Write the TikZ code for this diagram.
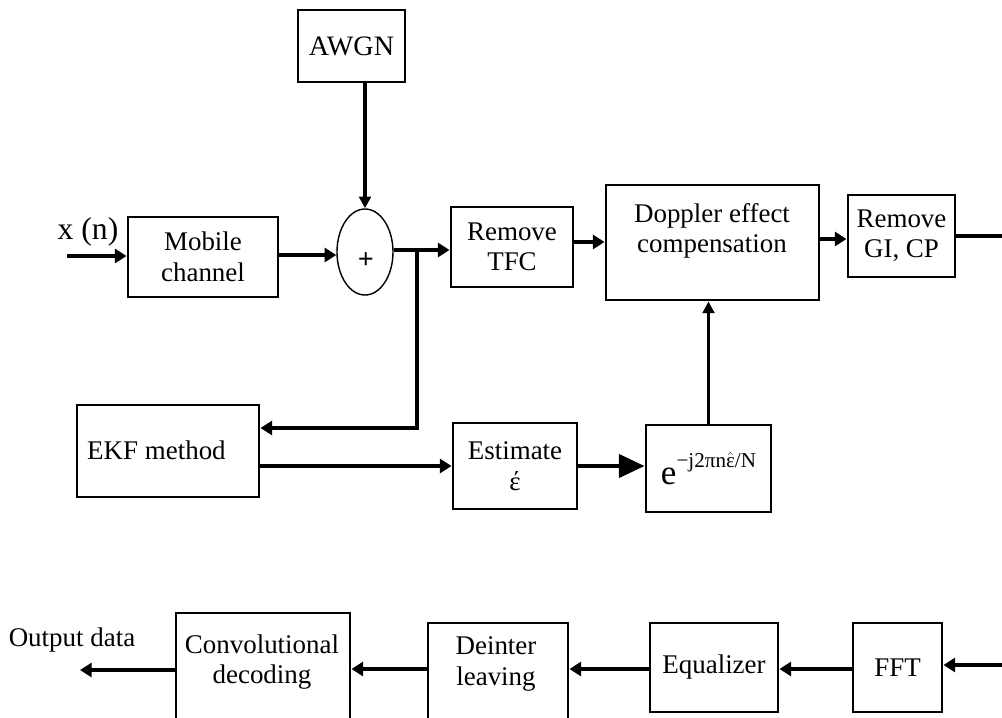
\documentclass[tikz,border=0pt]{standalone}
\usepackage{fontspec}
\setmainfont{Liberation Serif}
\usetikzlibrary{arrows.meta,shapes.geometric}
\tikzset{
  blk/.style={draw, line width=2.5pt, inner sep=0pt, align=center, font=\fontsize{23}{26}\selectfont},
  txt/.style={inner sep=0pt, align=center, font=\fontsize{23}{26}\selectfont},
  thickarr/.style={line width=4pt, -{Triangle[length=10pt,width=12pt]}},
  thinarr/.style={line width=2.6pt, -{Triangle[length=10pt,width=10pt]}},
  bigarr/.style={line width=2.8pt, -{Triangle[length=22pt,width=20pt]}},
  thickline/.style={line width=4pt},
}
\begin{document}
\begin{tikzpicture}[x=0.03cm,y=-0.03cm]
\useasboundingbox (0,0) rectangle (1002,717);
\clip (0,0) rectangle (1002,717);
\fill[white] (0,0) rectangle (1002,717);

% top row
\node[blk, minimum width=3.21cm, minimum height=2.16cm, font=\fontsize{24}{26}\selectfont] (awgn) at (351.5,46) {AWGN};
\node[blk, minimum width=4.5cm, minimum height=2.4cm] (mob) at (203,257) {Mobile\\channel};
\node[draw, ellipse, line width=1.2pt, minimum width=1.68cm, minimum height=2.58cm, inner sep=0pt] (add) at (365,252) {};
\node[txt, font=\fontsize{24}{26}\selectfont\bfseries] (plus) at (366,261) {+};
\node[blk, minimum width=3.66cm, minimum height=2.4cm] (tfc) at (512,247) {Remove\\TFC};
\node[blk, minimum width=6.39cm, minimum height=3.45cm] (dop) at (712.5,242.5) {};
\node[txt] (doptxt) at (712,231) {Doppler effect\\compensation};
\node[blk, minimum width=3.21cm, minimum height=2.46cm] (gi) at (901.5,236) {Remove\\GI, CP};

% middle row
\node[blk, minimum width=5.46cm, minimum height=2.76cm] (ekf) at (168,451) {};
\node[txt, anchor=west] (ekftxt) at (87,450) {EKF method};
\node[blk, minimum width=3.72cm, minimum height=2.58cm] (est) at (515,466) {Estimate\\έ};
\node[blk, minimum width=3.75cm, minimum height=2.61cm, font=\fontsize{30}{32}\selectfont] (ebox) at (708.5,468.5)
  {e\raisebox{1.0ex}{\fontsize{18}{18}\selectfont −j2πn$\hat{\hbox{ε}}$/N}};

% bottom row
\node[blk, minimum width=5.22cm, minimum height=3.51cm] (conv) at (263,671.5) {};
\node[txt] (convtxt) at (262,662) {Convolutional\\decoding};
\node[blk, minimum width=4.2cm, minimum height=3.21cm] (dein) at (498,676.5) {};
\node[txt] (deintxt) at (496,664) {Deinter\\leaving};
\node[blk, minimum width=3.84cm, minimum height=2.67cm] (eq) at (714,667.5) {Equalizer};
\node[blk, minimum width=2.67cm, minimum height=2.67cm] (fft) at (897.5,667.5) {FFT};

% labels
\node[txt, font=\fontsize{27}{29}\selectfont] (xn) at (88,232) {x (n)};
\node[txt] (outlbl) at (72,640) {Output data};

% coordinates
\coordinate (in) at (67,256);
\coordinate (j) at (417,250);
\coordinate (fb) at (417,428);
\coordinate (a1) at (0,242);
\coordinate (a2) at (0,239);
\coordinate (outR) at (1002,233);
\coordinate (inR) at (1002,665);
\coordinate (r) at (0,669);
\coordinate (outL) at (80,670);

% connectors
\draw[thickarr] (in) -- (in -| mob.west);
\draw[thickarr] (mob.east |- 0,255) -- (add.west |- 0,255);
\draw[thinarr] (awgn.south -| add.north) -- (add.north);
\draw[thickline] (add.east |- j) -- (j);
\draw[thickarr] (j) -- (j -| tfc.west);
\draw[thickarr] (j) -- (fb) -- (fb -| ekf.east);
\draw[thickarr] (tfc.east |- a1) -- (dop.west |- a1);
\draw[thickarr] (dop.east |- a2) -- (gi.west |- a2);
\draw[line width=2.6pt] (gi.east) -- (gi.east -| outR);
\draw[thickarr] (ekf.east |- est.west) -- (est.west);
\draw[bigarr] (est.east) -- (est.east -| ebox.west);
\draw[thinarr] (ebox.north) -- (ebox.north |- dop.south);
\draw[thickarr] (inR) -- (inR -| fft.east);
\draw[thickarr] (fft.west |- r) -- (eq.east |- r);
\draw[thickarr] (eq.west |- r) -- (dein.east |- r);
\draw[thickarr] (dein.west |- r) -- (conv.east |- r);
\draw[thickarr] (conv.west |- outL) -- (outL);
\end{tikzpicture}
\end{document}
